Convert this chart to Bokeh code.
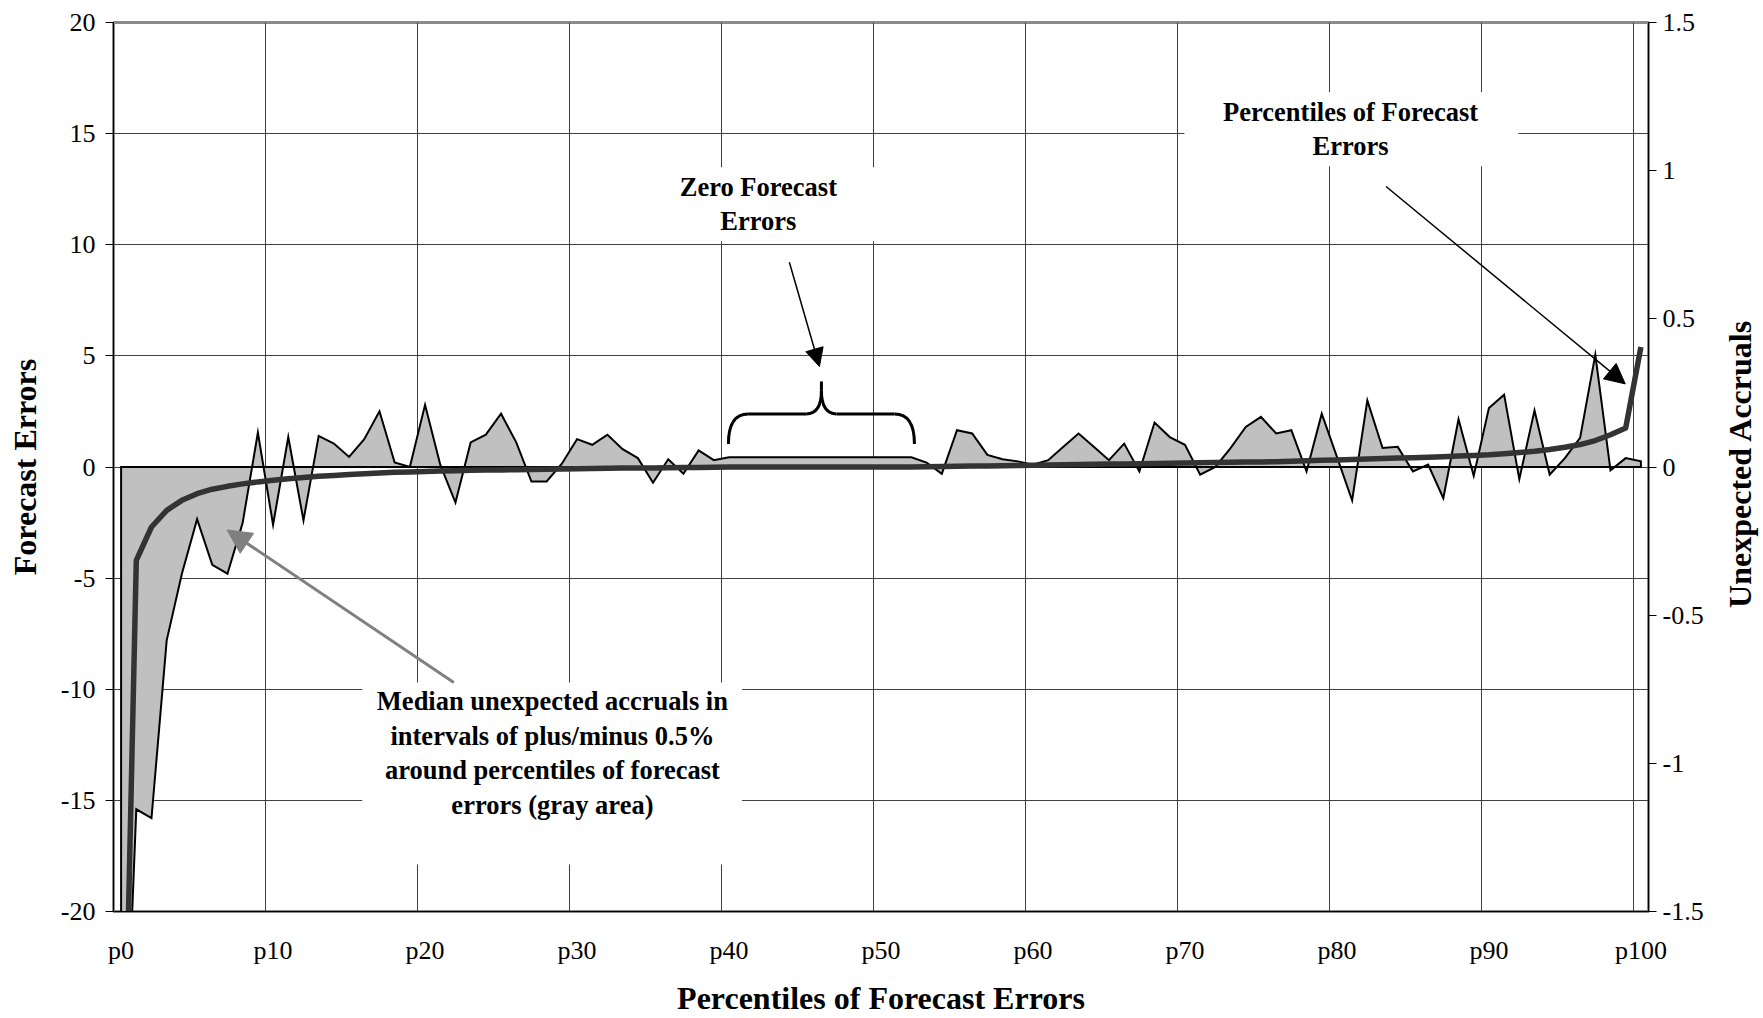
import math
from bokeh.plotting import figure
from bokeh.layouts import row
from bokeh.models import Range1d, LinearAxis, FixedTicker, Arrow, NormalHead
from bokeh.core.properties import value
from bokeh.embed import file_html
from bokeh.resources import INLINE

# ---------------- data ----------------
percentile_index = list(range(101))
x_tick_values = [0, 10, 20, 30, 40, 50, 60, 70, 80, 90, 100]
x_tick_labels = ["p0", "p10", "p20", "p30", "p40", "p50", "p60", "p70", "p80", "p90", "p100"]

# Percentiles of forecast errors (left axis, thick dark line)
forecast_error_pct = [
    -35.0, -4.2, -2.7, -1.95, -1.5, -1.2, -1.0, -0.87, -0.76, -0.67,
    -0.6, -0.53, -0.47, -0.42, -0.38, -0.34, -0.3, -0.27, -0.24, -0.22,
    -0.2, -0.18, -0.17, -0.15, -0.14, -0.13, -0.12, -0.11, -0.1, -0.09,
    -0.08, -0.07, -0.06, -0.05, -0.045, -0.04, -0.03, -0.025, -0.02, -0.01,
    0.0, 0.0, 0.0, 0.0, 0.0, 0.0, 0.0, 0.0, 0.0, 0.0,
    0.0, 0.0, 0.0, 0.01, 0.02, 0.03, 0.04, 0.05, 0.06, 0.07,
    0.08, 0.09, 0.1, 0.11, 0.12, 0.13, 0.14, 0.15, 0.16, 0.17,
    0.18, 0.19, 0.2, 0.21, 0.22, 0.23, 0.24, 0.26, 0.28, 0.3,
    0.32, 0.34, 0.36, 0.38, 0.4, 0.42, 0.44, 0.46, 0.49, 0.52,
    0.55, 0.6, 0.65, 0.71, 0.79, 0.89, 1.01, 1.19, 1.45, 1.75,
    5.4,
]

# Median unexpected accruals around each percentile (right axis, gray area)
median_unexpected_accruals = [
    -2.44, -1.155, -1.185, -0.585, -0.36, -0.176, -0.33, -0.36, -0.188, 0.116,
    -0.195, 0.101, -0.18, 0.105, 0.079, 0.034, 0.094, 0.188, 0.015, 0.0,
    0.21, 0.008, -0.12, 0.083, 0.109, 0.18, 0.083, -0.049, -0.049, 0.011,
    0.094, 0.075, 0.109, 0.06, 0.03, -0.053, 0.026, -0.023, 0.056, 0.023,
    0.033, 0.033, 0.033, 0.033, 0.033, 0.033, 0.033, 0.033, 0.033, 0.033,
    0.033, 0.033, 0.033, 0.015, -0.023, 0.124, 0.113, 0.041, 0.026, 0.019,
    0.008, 0.023, 0.068, 0.113, 0.068, 0.023, 0.079, -0.015, 0.15, 0.101,
    0.075, -0.026, 0.0, 0.064, 0.135, 0.169, 0.113, 0.124, -0.015, 0.18,
    0.034, -0.113, 0.225, 0.064, 0.068, -0.015, 0.008, -0.105, 0.161, -0.03,
    0.199, 0.244, -0.041, 0.191, -0.026, 0.03, 0.098, 0.379, -0.011, 0.03,
    0.019,
]

left_ticks = [-20, -15, -10, -5, 0, 5, 10, 15, 20]
left_tick_labels = ["-20", "-15", "-10", "-5", "0", "5", "10", "15", "20"]
right_ticks = [-1.5, -1.0, -0.5, 0.0, 0.5, 1.0, 1.5]
right_tick_labels = ["-1.5", "-1", "-0.5", "0", "0.5", "1", "1.5"]

x_title = "Percentiles of Forecast Errors"
left_title = "Forecast Errors"
right_title = "Unexpected Accruals"
zero_text = ["Zero Forecast", "Errors"]
pct_text = ["Percentiles of Forecast", "Errors"]
median_text = ["Median unexpected accruals in", "intervals of plus/minus 0.5%",
               "around percentiles of forecast", "errors (gray area)"]

# ---------------- layout sizes ----------------
FONT = "Liberation Serif"
TOTAL_W, TOTAL_H = 1763, 1018
SIDE_W = 53                      # narrow strip holding the right axis title
MAIN_W = TOTAL_W - SIDE_W

p = figure(width=MAIN_W, height=TOTAL_H, output_backend="svg", toolbar_location=None,
           x_range=Range1d(-0.5, 100.5), y_range=Range1d(-20, 20),
           min_border_left=113, min_border_right=62, min_border_top=22,
           min_border_bottom=107)
p.background_fill_color = "white"
p.border_fill_color = "white"
p.outline_line_color = "#8a8a8a"
p.outline_line_width = 3
p.extra_y_ranges = {"acc": Range1d(-1.5, 1.5)}

# grid: vertical lines on category boundaries, horizontal every 5
p.xgrid.ticker = FixedTicker(ticks=[t - 0.5 for t in x_tick_values[1:]])
p.ygrid.ticker = FixedTicker(ticks=left_ticks[1:-1])
for g in (p.xgrid[0], p.ygrid[0]):
    g.grid_line_color = "#404040"
    g.grid_line_width = 1

# x axis
xa = p.xaxis[0]
xa.ticker = FixedTicker(ticks=x_tick_values)
xa.major_label_overrides = {v: s for v, s in zip(x_tick_values, x_tick_labels)}
xa.major_tick_out = 0
xa.major_tick_in = 0
xa.minor_tick_out = 0
xa.minor_tick_in = 0
xa.major_label_standoff = 24
xa.axis_label = x_title
xa.axis_label_standoff = 12

# left axis
ya = p.yaxis[0]
ya.ticker = FixedTicker(ticks=left_ticks)
ya.major_label_overrides = {v: s for v, s in zip(left_ticks, left_tick_labels)}
ya.major_label_standoff = 10
ya.axis_label = left_title
ya.axis_label_standoff = 15

# right axis (title drawn in side strip so it reads bottom-to-top)
ra = LinearAxis(y_range_name="acc", ticker=FixedTicker(ticks=right_ticks))
ra.major_label_overrides = {v: s for v, s in zip(right_ticks, right_tick_labels)}
ra.major_label_standoff = 6
p.add_layout(ra, "right")

for ax in (xa, ya, ra):
    ax.axis_line_color = "black"
    ax.axis_line_width = 1
    ax.major_tick_line_color = "black"
    ax.minor_tick_line_color = None
    ax.major_label_text_font = FONT
    ax.major_label_text_font_size = "26px"
    ax.major_label_text_color = "black"
    ax.axis_label_text_font = FONT
    ax.axis_label_text_font_style = "bold"
    ax.axis_label_text_font_size = "32px"
    ax.axis_label_text_color = "black"
for ax in (ya, ra):
    ax.major_tick_out = 8
    ax.major_tick_in = 0
    ax.minor_tick_out = 0
    ax.minor_tick_in = 0

# white text boxes covering gridlines
p.quad(left=[15.86, 35.2, 69.96], right=[40.86, 49.96, 91.93],
       bottom=[-17.89, 10.16, 13.53], top=[-9.70, 13.49, 16.86],
       fill_color="white", line_color=None)

# gray area (median unexpected accruals), closed to the zero baseline
area_x = [percentile_index[0]] + percentile_index + [percentile_index[-1]]
area_y = [0.0] + median_unexpected_accruals + [0.0]
p.patch(area_x, area_y, y_range_name="acc", fill_color="#c0c0c0",
        line_color="black", line_width=2, line_join="miter")

# thick line (percentiles of forecast errors)
p.line(percentile_index, forecast_error_pct, line_color="#333333",
       line_width=5.5, line_join="round")

# brace over the zero forecast errors region
bcx, bhw, byb, bybar, bymid, bytip, br, br2 = 46.08, 6.12, 1.04, 2.39, 3.44, 3.85, 1.3, 1.0
p.quadratic(x0=[bcx - bhw, bcx - br2, bcx + bhw, bcx + br2],
            y0=[byb, bybar, byb, bybar],
            x1=[bcx - bhw + br, bcx, bcx + bhw - br, bcx],
            y1=[bybar, bymid, bybar, bymid],
            cx=[bcx - bhw, bcx, bcx + bhw, bcx],
            cy=[bybar, bybar, bybar, bybar],
            line_color="black", line_width=3)
p.segment(x0=[bcx - bhw + br, bcx + br2, bcx], y0=[bybar, bybar, bymid],
          x1=[bcx - br2, bcx + bhw - br, bcx], y1=[bybar, bybar, bytip],
          line_color="black", line_width=3)

# annotation texts
def add_lines(lines, x, y0, step):
    p.text(x=[x] * len(lines), y=[y0 - i * step for i in range(len(lines))], text=lines,
           text_font=value(FONT), text_font_style="bold", text_font_size="26.5px",
           text_align="center", text_baseline="alphabetic", text_color="black")

add_lines(zero_text, 41.93, 12.58, 1.52)
add_lines(pct_text, 80.9, 15.97, 1.52)
add_lines(median_text, 28.38, -10.53, 1.56)

# arrows
p.add_layout(Arrow(end=NormalHead(size=18, fill_color="black", line_color="black"),
                   x_start=43.97, y_start=9.21, x_end=45.95, y_end=4.52,
                   line_color="black", line_width=1.5))
p.add_layout(Arrow(end=NormalHead(size=20, fill_color="black", line_color="black"),
                   x_start=83.23, y_start=12.62, x_end=98.97, y_end=3.74,
                   line_color="black", line_width=1.5))
p.add_layout(Arrow(end=NormalHead(size=24, fill_color="#808080", line_color="#808080"),
                   x_start=21.89, y_start=-9.70, x_end=6.97, y_end=-2.83,
                   line_color="#808080", line_width=3))

# ---------------- side strip with the right axis title ----------------
side = figure(width=SIDE_W, height=TOTAL_H, output_backend="svg", toolbar_location=None,
              x_range=Range1d(0, SIDE_W), y_range=Range1d(0, TOTAL_H),
              x_axis_location=None, y_axis_location=None, min_border=0)
side.grid.visible = False
side.outline_line_color = None
side.background_fill_color = "white"
side.border_fill_color = "white"
side.text(x=[29.5], y=[513], text=[right_title], angle=math.pi / 2,
          text_font=value(FONT), text_font_style="bold", text_font_size="32px",
          text_align="center", text_baseline="middle", text_color="black")

layout = row(p, side, spacing=0)
open("out.html", "w").write(file_html(layout, INLINE))
